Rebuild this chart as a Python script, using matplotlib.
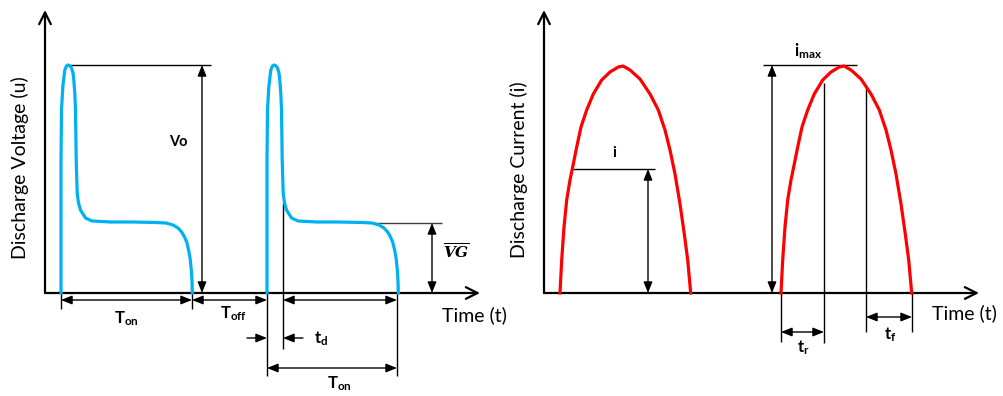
import numpy as np
import matplotlib.pyplot as plt

plt.rcParams['font.family'] = ['Lato', 'DejaVu Sans']
plt.rcParams['mathtext.fontset'] = 'custom'
plt.rcParams['mathtext.rm'] = 'Lato'
plt.rcParams['mathtext.bf'] = 'Lato:bold'
plt.rcParams['mathtext.it'] = 'Lato:italic'

# voltage pulse shape (time offset from pulse start, level)
u_t = [0, 0, 0.5, 1.8, 3.8, 5.5, 7.2, 9, 10.5, 12, 12.8, 13.8, 14.5, 15.2, 16.2, 17.5,
       19.5, 24.5, 31, 50, 72, 95, 105, 112, 117, 120.7, 123.5, 125.7, 127.8, 129.2,
       130.4, 131, 131.3]
u_v = [0, 133, 183, 206, 223, 227, 228, 227, 225, 220, 213, 200, 183, 133, 100, 90,
       83, 75, 72, 71, 71, 70.5, 70, 68, 65, 61, 56, 51, 42, 34,
       22, 12, 0]
u_starts = [16, 222]

# current pulse shape
i_t = [0, 1.7, 4, 6.7, 10, 13.3, 16.7, 21, 26.7, 33.3, 41.7, 50, 58.3, 63, 70, 80,
       90, 98.3, 105, 110, 115, 120, 124.3, 127.7, 130.7]
i_v = [0, 33, 66, 93, 113, 129, 146, 166, 183, 199, 213, 221, 226, 227, 223, 214,
       199, 183, 163, 143, 119, 89, 59, 33, 0]
i_starts = [16, 237]

v0, vg = 228, 70
i_lvl, i_max = 124, 228
tr_lvl, tf_lvl = 210, 207

blue = '#00B0F0'
red = '#FF0000'

fig = plt.figure(figsize=(10.04, 3.96), dpi=100)
W, H = 435, 283
axL = fig.add_axes([45 / 1004, 103 / 396, W / 1004, H / 396])
axR = fig.add_axes([544 / 1004, 103 / 396, W / 1004, H / 396])
for ax in (axL, axR):
    ax.set_xlim(0, W)
    ax.set_ylim(0, H)
    ax.axis('off')


def axis_arrows(ax):
    ap = dict(arrowstyle='->,head_length=0.7,head_width=0.35', lw=1.6, color='black',
              shrinkA=0, shrinkB=0, mutation_scale=12)
    ax.annotate('', xy=(W, 0), xytext=(0, 0), arrowprops=ap, annotation_clip=False)
    ax.annotate('', xy=(0, H), xytext=(0, 0), arrowprops=ap, annotation_clip=False)


def dim(ax, p1, p2, style='<|-|>'):
    ap = dict(arrowstyle=style + ',head_length=0.55,head_width=0.22', lw=1.0, color='black',
              shrinkA=0, shrinkB=0, mutation_scale=12)
    ax.annotate('', xy=p2, xytext=p1, arrowprops=ap, annotation_clip=False)


def ln(ax, xs, ys, lw=1.0, color='black'):
    ax.plot(xs, ys, color=color, lw=lw, clip_on=False, solid_capstyle='butt')


def lab(ax, x, y, s, size=11, **kw):
    ax.text(x, y, s, fontsize=size, ha='center', va='center', clip_on=False, **kw)


# ---- left: discharge voltage
axis_arrows(axL)
for s in u_starts:
    axL.plot(np.array(u_t) + s, u_v, color=blue, lw=2.3, clip_on=False, zorder=3,
             solid_joinstyle='round')

ln(axL, [24, 166], [v0, v0])
dim(axL, (157, 0), (157, v0))
lab(axL, 133, 151, 'Vo', size=10.5, fontweight='bold')

ln(axL, [327, 397], [vg, vg], color='#404040')
dim(axL, (387, 0), (387, vg))
lab(axL, 411, 41, r'$\overline{\mathbfit{VG}}$', size=11, math_fontfamily='dejavuserif')

for x, y0 in [(16, -16), (147, -16), (222, -83), (352, -83)]:
    ln(axL, [x, x], [0, y0])
ln(axL, [238, 238], [90, -56])
dim(axL, (16, -7), (147, -7))
dim(axL, (147, -7), (222, -7))
dim(axL, (238, -7), (352, -7))
dim(axL, (222, -75), (352, -75))
dim(axL, (202, -45), (222, -45), style='-|>')
dim(axL, (258, -45), (238, -45), style='-|>')
lab(axL, 81, -26, r'$\mathbf{T}_{\mathbf{on}}$', size=12)
lab(axL, 189, -21, r'$\mathbf{T}_{\mathbf{off}}$', size=12)
lab(axL, 276, -46, r'$\mathbf{t}_{\mathbf{d}}$', size=12)
lab(axL, 294, -91, r'$\mathbf{T}_{\mathbf{on}}$', size=12)
axL.text(397, -22, 'Time (t)', fontsize=14, ha='left', va='center', clip_on=False)
fig.text(20 / 1004, 1 - 168 / 396, 'Discharge Voltage (u)', fontsize=14, rotation=90,
         ha='center', va='center')

# ---- right: discharge current
axis_arrows(axR)
for s in i_starts:
    axR.plot(np.array(i_t) + s, i_v, color=red, lw=2.3, clip_on=False, zorder=3,
             solid_joinstyle='round')

ln(axR, [29, 111], [i_lvl, i_lvl])
dim(axR, (104, 0), (104, i_lvl))
lab(axR, 70, 140, 'i', size=11, fontweight='bold')

ln(axR, [219, 313], [i_max, i_max])
dim(axR, (228, 0), (228, i_max))
lab(axR, 264, 242, r'$\mathbf{i}_{\mathbf{max}}$', size=12)

ln(axR, [280, 280], [tr_lvl, -50])
ln(axR, [322, 322], [tf_lvl, -39])
ln(axR, [237, 237], [0, -49])
ln(axR, [368, 368], [0, -39])
dim(axR, (237, -39), (280, -39))
dim(axR, (322, -24), (368, -24))
lab(axR, 259, -55, r'$\mathbf{t}_{\mathbf{r}}$', size=12)
lab(axR, 346, -42, r'$\mathbf{t}_{\mathbf{f}}$', size=12)
axR.text(388, -20, 'Time (t)', fontsize=14, ha='left', va='center', clip_on=False)
fig.text(519 / 1004, 1 - 170 / 396, 'Discharge Current (i)', fontsize=14, rotation=90,
         ha='center', va='center')

fig.savefig('out.png', dpi=100)
